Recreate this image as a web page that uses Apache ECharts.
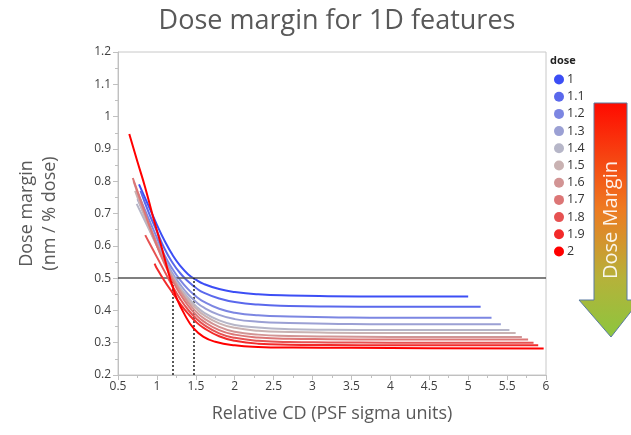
<!DOCTYPE html>
<html lang="en">
<head>
  <meta charset="UTF-8">
  <title>Dose margin for 1D features</title>
  <style>
    body{ margin:0; background:#fff; }
    #chart{ width:631px; height:435px; }
  </style>
</head>
<body>
  <div id="chart"></div>
  <script src="https://cdn.jsdelivr.net/npm/echarts@6/dist/echarts.min.js"></script>
  <script>
// doses shown in the legend
const doses = ['1', '1.1', '1.2', '1.3', '1.4', '1.5', '1.6', '1.7', '1.8', '1.9', '2'];
const doseColors = ['#3c4ef5', '#5a68ec', '#7c86e2', '#9ba0d4', '#b6b6c8', '#c9b2b2',
                    '#d29494', '#dc7676', '#e65252', '#f22a2a', '#ff0000'];

// curves: [relative CD, dose margin]
const d10 = [[0.77,0.79],[0.9,0.72],[1.0,0.665],[1.1,0.615],[1.2,0.572],[1.3,0.538],[1.4,0.512],[1.5,0.495],[1.6,0.482],[1.8,0.466],[2.0,0.457],[2.3,0.45],[2.7,0.446],[3.2,0.444],[4.0,0.443],[5.0,0.443]];
const d11 = [[0.79,0.77],[0.9,0.70],[1.0,0.645],[1.1,0.59],[1.2,0.548],[1.3,0.515],[1.4,0.49],[1.5,0.47],[1.6,0.455],[1.8,0.437],[2.0,0.426],[2.3,0.418],[2.7,0.414],[3.2,0.412],[4.0,0.411],[5.16,0.411]];
const d12 = [[0.76,0.76],[0.9,0.68],[1.0,0.625],[1.1,0.57],[1.2,0.528],[1.3,0.494],[1.4,0.466],[1.5,0.444],[1.6,0.427],[1.8,0.405],[2.0,0.393],[2.3,0.385],[2.7,0.381],[3.2,0.379],[4.0,0.377],[5.3,0.377]];
const d13 = [[0.75,0.745],[0.9,0.665],[1.0,0.61],[1.1,0.56],[1.2,0.515],[1.3,0.48],[1.4,0.45],[1.5,0.427],[1.6,0.409],[1.8,0.386],[2.0,0.373],[2.3,0.365],[2.7,0.361],[3.2,0.359],[4.0,0.357],[5.42,0.357]];
const d14 = [[0.74,0.73],[0.9,0.65],[1.0,0.60],[1.1,0.55],[1.2,0.507],[1.3,0.47],[1.4,0.44],[1.5,0.414],[1.6,0.394],[1.8,0.369],[2.0,0.355],[2.3,0.347],[2.7,0.342],[3.2,0.34],[4.0,0.339],[5.53,0.339]];
const d15 = [[0.72,0.77],[0.9,0.655],[1.0,0.60],[1.1,0.548],[1.2,0.503],[1.3,0.465],[1.4,0.433],[1.5,0.407],[1.6,0.386],[1.8,0.36],[2.0,0.346],[2.3,0.337],[2.7,0.333],[3.2,0.331],[4.0,0.33],[5.61,0.33]];
const d16 = [[0.70,0.80],[0.8,0.73],[0.9,0.665],[1.0,0.605],[1.1,0.55],[1.2,0.502],[1.3,0.46],[1.4,0.425],[1.5,0.397],[1.6,0.376],[1.8,0.349],[2.0,0.334],[2.3,0.325],[2.7,0.321],[3.2,0.319],[4.0,0.318],[5.69,0.318]];
const d17 = [[0.69,0.81],[0.8,0.735],[0.9,0.665],[1.0,0.60],[1.1,0.543],[1.2,0.493],[1.3,0.45],[1.4,0.415],[1.5,0.387],[1.6,0.366],[1.8,0.339],[2.0,0.325],[2.3,0.316],[2.7,0.312],[3.2,0.311],[4.0,0.31],[5.77,0.31]];
const d18 = [[0.85,0.633],[0.9,0.61],[1.0,0.565],[1.1,0.52],[1.2,0.475],[1.3,0.435],[1.4,0.402],[1.5,0.376],[1.6,0.356],[1.8,0.329],[2.0,0.315],[2.3,0.306],[2.7,0.302],[3.2,0.301],[4.0,0.3],[5.84,0.3]];
const d19 = [[0.97,0.545],[1.0,0.53],[1.1,0.49],[1.2,0.455],[1.3,0.42],[1.4,0.39],[1.5,0.365],[1.6,0.346],[1.8,0.32],[2.0,0.306],[2.3,0.297],[2.7,0.294],[3.2,0.293],[4.0,0.292],[5.9,0.292]];
const d20 = [[0.645,0.946],[0.75,0.86],[0.85,0.78],[0.95,0.69],[1.05,0.605],[1.15,0.515],[1.2,0.475],[1.25,0.44],[1.35,0.39],[1.47,0.345],[1.6,0.318],[1.75,0.303],[2.0,0.292],[2.3,0.287],[2.75,0.285],[3.5,0.284],[4.5,0.283],[5.97,0.282]];
const curves = [d10, d11, d12, d13, d14, d15, d16, d17, d18, d19, d20];

// reference lines
const marginLevel = 0.5;
const crossCD = [1.2, 1.47];

const chart = echarts.init(document.getElementById('chart'));

const series = doses.map((d, i) => ({
  name: d,
  type: 'line',
  data: curves[i],
  smooth: true,
  showSymbol: false,
  symbol: 'circle',
  z: 2 + i,
  color: doseColors[i],
  lineStyle: { width: 2, color: doseColors[i] }
}));

// horizontal 0.5 line + dotted drops
series.push({
  type: 'line',
  data: [],
  z: 20,
  markLine: {
    silent: true,
    symbol: 'none',
    label: { show: false },
    data: [
      [{ coord: [0.5, marginLevel], lineStyle: { color: '#555', width: 1.5, type: 'solid' } }, { coord: [6, marginLevel] }],
      [{ coord: [crossCD[0], 0.2], lineStyle: { color: '#222', width: 1.5, type: [2, 2] } }, { coord: [crossCD[0], marginLevel] }],
      [{ coord: [crossCD[1], 0.2], lineStyle: { color: '#222', width: 1.5, type: [2, 2] } }, { coord: [crossCD[1], marginLevel] }]
    ]
  }
});

const grayText = '#595959';

chart.setOption({
  animation: false,
  title: {
    text: 'Dose margin for 1D features',
    left: 332, top: 3, textAlign: 'center',
    textStyle: { fontFamily: 'Open Sans', fontSize: 27, fontWeight: 'normal', color: grayText }
  },
  grid: { left: 118, right: 85, top: 52, bottom: 60, show: true, borderColor: '#c8c8c8', borderWidth: 1 },
  legend: {
    orient: 'vertical',
    left: 549, top: 68,
    icon: 'circle',
    itemWidth: 10, itemHeight: 10, itemGap: 4.2,
    data: doses,
    textStyle: { fontFamily: 'Open Sans', fontSize: 12.5, color: '#333', padding: [0, 0, 0, -2] }
  },
  xAxis: {
    type: 'value', min: 0.5, max: 6, interval: 0.5,
    name: 'Relative CD (PSF sigma units)',
    nameLocation: 'middle', nameGap: 30,
    nameTextStyle: { fontFamily: 'Open Sans', fontSize: 18, color: grayText },
    axisLine: { show: true, lineStyle: { color: '#c0c0c0' } },
    axisTick: { show: true, length: 5, lineStyle: { color: '#c0c0c0' } },
    minorTick: { show: true, splitNumber: 2, length: 3, lineStyle: { color: '#c0c0c0' } },
    splitLine: { show: false },
    axisLabel: { fontFamily: 'Open Sans', fontSize: 12, color: '#404040', margin: 6,
      formatter: v => String(+v.toFixed(1)) }
  },
  yAxis: {
    type: 'value', min: 0.2, max: 1.2, interval: 0.1,
    name: 'Dose margin\n(nm / % dose)',
    nameLocation: 'middle', nameGap: 57,
    nameTextStyle: { fontFamily: 'Open Sans', fontSize: 18, color: grayText, lineHeight: 23, align: 'center' },
    axisLine: { show: true, lineStyle: { color: '#c0c0c0' } },
    axisTick: { show: true, length: 5, lineStyle: { color: '#c0c0c0' } },
    minorTick: { show: true, splitNumber: 2, length: 3, lineStyle: { color: '#c0c0c0' } },
    splitLine: { show: false },
    axisLabel: { fontFamily: 'Open Sans', fontSize: 12, color: '#404040', margin: 7,
      formatter: v => String(+v.toFixed(1)) }
  },
  graphic: [
    {
      type: 'text', left: 550, top: 55,
      style: { text: 'dose', font: 'bold 11px "Open Sans"', fill: '#222' }
    },
    {
      type: 'polygon',
      shape: { points: [[594, 103], [627, 103], [627, 300], [640, 300], [611, 337], [579, 300], [594, 300]] },
      style: {
        fill: new echarts.graphic.LinearGradient(0, 0, 0, 1, [
          { offset: 0, color: '#ff0a00' },
          { offset: 0.45, color: '#ee7a22' },
          { offset: 0.75, color: '#b5b23a' },
          { offset: 1, color: '#8cc63e' }
        ]),
        stroke: '#5a7aa0', lineWidth: 1
      }
    },
    {
      type: 'text', x: 611, y: 220, rotation: Math.PI / 2,
      style: { text: 'Dose Margin', font: '20px "Open Sans"', fill: 'rgba(255,255,255,0.9)', align: 'center', verticalAlign: 'middle' }
    }
  ],
  series: series
});
  </script>
</body>
</html>
